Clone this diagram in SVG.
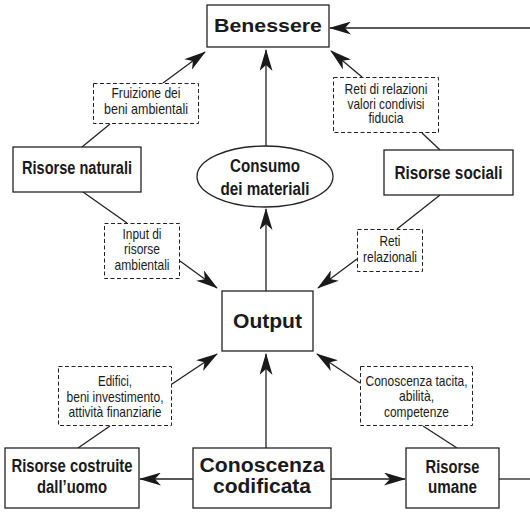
<svg xmlns="http://www.w3.org/2000/svg" width="530" height="512" viewBox="0 0 530 512">
<style>
.box{fill:#fff;stroke:#222;stroke-width:1.3}
.dash{fill:#fff;stroke:#222;stroke-width:1;stroke-dasharray:4,2.5}
.ln{fill:none;stroke:#222;stroke-width:1.3}
.arr{fill:none;stroke:#222;stroke-width:1.3;marker-end:url(#ah)}
.b{font-family:"Liberation Sans",Arial,sans-serif;font-weight:bold;fill:#1a1a1a;text-anchor:middle}
.s{font-family:"Liberation Sans",Arial,sans-serif;font-size:14.5px;fill:#1a1a1a;text-anchor:middle}
</style>
<defs>
<marker id="ah" viewBox="0 0 22 13" refX="21" refY="6.5" markerWidth="22" markerHeight="13" markerUnits="userSpaceOnUse" orient="auto">
<path d="M0,0 L22,6.5 L0,13 L6,6.5 z" fill="#1a1a1a"/>
</marker>
</defs>
<g id="connectors">
<line class="arr" x1="530" y1="28" x2="330" y2="28"/>
<line class="arr" x1="163" y1="83" x2="205" y2="52"/>
<line class="ln" x1="82" y1="147" x2="110" y2="124"/>
<line class="arr" x1="362" y1="77" x2="331" y2="51"/>
<line class="ln" x1="440" y1="150" x2="422" y2="133"/>
<line class="arr" x1="266" y1="146" x2="266" y2="50"/>
<line class="arr" x1="266" y1="291" x2="266" y2="209"/>
<line class="ln" x1="83" y1="192" x2="127" y2="223"/>
<line class="arr" x1="180" y1="261" x2="217" y2="288"/>
<line class="ln" x1="440" y1="195" x2="397" y2="229"/>
<line class="arr" x1="357" y1="259" x2="318" y2="288"/>
<line class="arr" x1="172" y1="384" x2="217" y2="354"/>
<line class="ln" x1="78" y1="448" x2="110" y2="426"/>
<line class="arr" x1="360" y1="383" x2="317" y2="354"/>
<line class="ln" x1="457" y1="448" x2="423" y2="426"/>
<line class="arr" x1="266" y1="448" x2="266" y2="354"/>
<line class="arr" x1="193" y1="479" x2="140" y2="479"/>
<line class="arr" x1="331" y1="479" x2="405" y2="479"/>
<line class="ln" x1="499" y1="479" x2="530" y2="479"/>
</g>
<g id="benessere">
<rect class="box" x="207" y="5" width="122" height="42"/>
<text class="b" x="268" y="32" font-size="19" textLength="108" lengthAdjust="spacingAndGlyphs">Benessere</text>
</g>
<g id="risorse-naturali">
<rect class="box" x="13" y="147" width="128" height="45"/>
<text class="b" x="77" y="174" font-size="17.5" textLength="110" lengthAdjust="spacingAndGlyphs">Risorse naturali</text>
</g>
<g id="risorse-sociali">
<rect class="box" x="384" y="150" width="129" height="45"/>
<text class="b" x="448.5" y="178.5" font-size="17.5" textLength="108" lengthAdjust="spacingAndGlyphs">Risorse sociali</text>
</g>
<g id="consumo">
<ellipse class="box" cx="265" cy="176.5" rx="68" ry="30.5"/>
<text class="b" x="265" y="172" font-size="17.5" textLength="70" lengthAdjust="spacingAndGlyphs">Consumo</text>
<text class="b" x="265" y="195" font-size="17.5" textLength="89" lengthAdjust="spacingAndGlyphs">dei materiali</text>
</g>
<g id="output">
<rect class="box" x="222" y="291" width="91" height="60"/>
<text class="b" x="267.5" y="327.5" font-size="20.5" textLength="69" lengthAdjust="spacingAndGlyphs">Output</text>
</g>
<g id="risorse-costruite">
<rect class="box" x="5" y="448" width="134" height="60"/>
<text class="b" x="72" y="472" font-size="17.5" textLength="121" lengthAdjust="spacingAndGlyphs">Risorse costruite</text>
<text class="b" x="72" y="493" font-size="17.5" textLength="70" lengthAdjust="spacingAndGlyphs">dall’uomo</text>
</g>
<g id="conoscenza-codificata">
<rect class="box" x="193" y="448" width="138" height="60"/>
<text class="b" x="262" y="472" font-size="20" textLength="125" lengthAdjust="spacingAndGlyphs">Conoscenza</text>
<text class="b" x="262" y="493" font-size="20" textLength="98" lengthAdjust="spacingAndGlyphs">codificata</text>
</g>
<g id="risorse-umane">
<rect class="box" x="406" y="448" width="93" height="60"/>
<text class="b" x="452.5" y="473" font-size="17.5" textLength="54" lengthAdjust="spacingAndGlyphs">Risorse</text>
<text class="b" x="452.5" y="493" font-size="17.5" textLength="49" lengthAdjust="spacingAndGlyphs">umane</text>
</g>
<g id="label-fruizione">
<rect class="dash" x="93.5" y="83.5" width="105" height="40"/>
<text class="s" x="146" y="98" textLength="69" lengthAdjust="spacingAndGlyphs">Fruizione dei</text>
<text class="s" x="146" y="113.5" textLength="84" lengthAdjust="spacingAndGlyphs">beni ambientali</text>
</g>
<g id="label-reti-relazioni">
<rect class="dash" x="333.5" y="77.5" width="105" height="55"/>
<text class="s" x="386" y="94" textLength="83" lengthAdjust="spacingAndGlyphs">Reti di relazioni</text>
<text class="s" x="386" y="108.5" textLength="77" lengthAdjust="spacingAndGlyphs">valori condivisi</text>
<text class="s" x="386" y="123" textLength="35" lengthAdjust="spacingAndGlyphs">fiducia</text>
</g>
<g id="label-input">
<rect class="dash" x="104.5" y="223.5" width="75" height="55"/>
<text class="s" x="142" y="238.5" textLength="39" lengthAdjust="spacingAndGlyphs">Input di</text>
<text class="s" x="142" y="254" textLength="36" lengthAdjust="spacingAndGlyphs">risorse</text>
<text class="s" x="142" y="269.5" textLength="55" lengthAdjust="spacingAndGlyphs">ambientali</text>
</g>
<g id="label-reti-relazionali">
<rect class="dash" x="357.5" y="229.5" width="65" height="42"/>
<text class="s" x="390" y="246" textLength="21" lengthAdjust="spacingAndGlyphs">Reti</text>
<text class="s" x="390" y="261.5" textLength="54" lengthAdjust="spacingAndGlyphs">relazionali</text>
</g>
<g id="label-edifici">
<rect class="dash" x="58.5" y="366.5" width="113" height="59"/>
<text class="s" x="115" y="386" textLength="34" lengthAdjust="spacingAndGlyphs">Edifici,</text>
<text class="s" x="115" y="401.5" textLength="97" lengthAdjust="spacingAndGlyphs">beni investimento,</text>
<text class="s" x="115" y="417" textLength="93" lengthAdjust="spacingAndGlyphs">attività finanziarie</text>
</g>
<g id="label-tacita">
<rect class="dash" x="360.5" y="366.5" width="112" height="59"/>
<text class="s" x="416.5" y="385.5" textLength="102" lengthAdjust="spacingAndGlyphs">Conoscenza tacita,</text>
<text class="s" x="416.5" y="401" textLength="35" lengthAdjust="spacingAndGlyphs">abilità,</text>
<text class="s" x="416.5" y="416.5" textLength="65" lengthAdjust="spacingAndGlyphs">competenze</text>
</g>
</svg>
